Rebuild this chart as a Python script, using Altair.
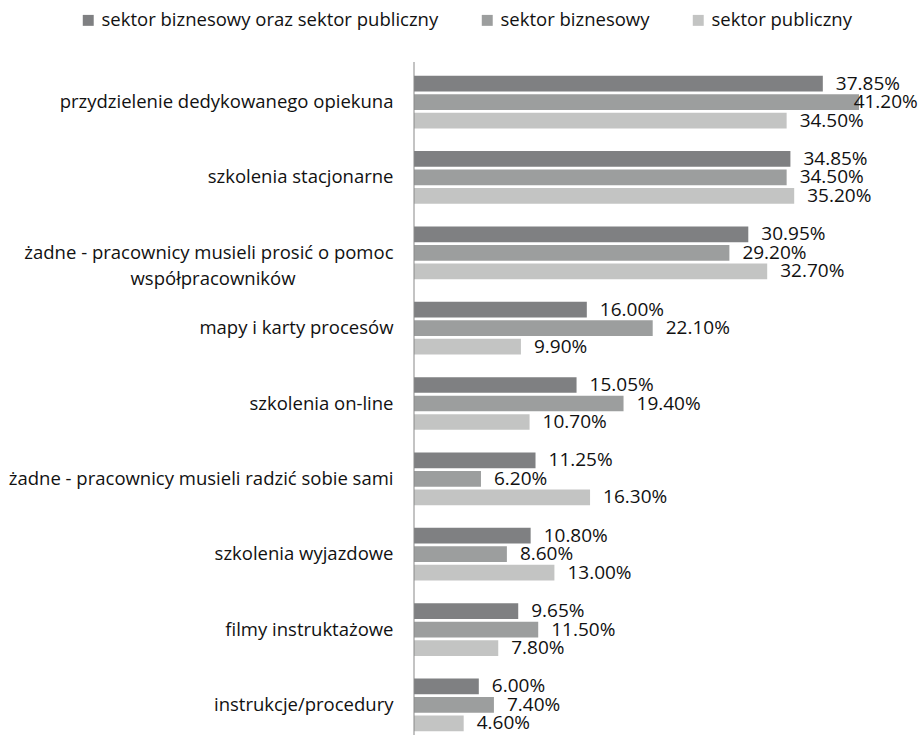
import altair as alt
import pandas as pd

PAD = "\u2800"
categories = [
    "przydzielenie dedykowanego opiekuna",
    "szkolenia stacjonarne",
    "żadne - pracownicy musieli prosić o pomoc|współpracowników" + PAD * 7,
    "mapy i karty procesów",
    "szkolenia on-line",
    "żadne - pracownicy musieli radzić sobie sami",
    "szkolenia wyjazdowe",
    "filmy instruktażowe",
    "instrukcje/procedury",
]
series = ["sektor biznesowy oraz sektor publiczny", "sektor biznesowy", "sektor publiczny"]
s_all = [37.85, 34.85, 30.95, 16.00, 15.05, 11.25, 10.80, 9.65, 6.00]
s_biz = [41.20, 34.50, 29.20, 22.10, 19.40, 6.20, 8.60, 11.50, 7.40]
s_pub = [34.50, 35.20, 32.70, 9.90, 10.70, 16.30, 13.00, 7.80, 4.60]
colors = ["#7f8082", "#9c9e9e", "#c3c4c3"]

rows = []
for vals, s in zip([s_all, s_biz, s_pub], series):
    for c, v in zip(categories, vals):
        rows.append({"cat": c, "series": s, "value": v, "label": f"{v:.2f}%"})
df = pd.DataFrame(rows)

FONT = "Open Sans"
H = 663
y_enc = alt.Y("cat:N", sort=categories,
              scale=alt.Scale(paddingInner=0.30, paddingOuter=0.05),
              axis=alt.Axis(title=None, domain=False, ticks=False, labelPadding=21,
                            labelFontSize=18.5, labelColor="#111111", labelFont=FONT,
                            labelLineHeight=26, labelLimit=420,
                            labelExpr="split(datum.label, '|')"))
yoff = alt.YOffset("series:N", sort=series, scale=alt.Scale(paddingInner=0.15))
x_scale = alt.Scale(domain=[0, 44.44], nice=False, zero=True)

base = alt.Chart(df)
bars = base.mark_bar(cornerRadius=0).encode(
    x=alt.X("value:Q", scale=x_scale, axis=None),
    y=y_enc,
    yOffset=yoff,
    color=alt.Color("series:N", sort=series,
                    scale=alt.Scale(domain=series, range=colors),
                    legend=alt.Legend(title=None, orient="none", legendX=-335, legendY=-61,
                                      direction="horizontal", symbolType="square",
                                      symbolSize=120, symbolStrokeWidth=0,
                                      labelFont=FONT, labelFontSize=18.5,
                                      labelColor="#111111", columnPadding=39,
                                      labelOffset=4, labelLimit=400)),
)
text = base.transform_calculate(lx="min(datum.value, 39.5)").mark_text(
    align="left", baseline="middle", dx=13, fontSize=19, font=FONT, color="#111111"
).encode(
    x=alt.X("lx:Q", scale=x_scale, axis=None),
    y=alt.Y("cat:N", sort=categories),
    yOffset=yoff,
    text="label:N",
)
axis_line = alt.Chart(pd.DataFrame({"a": [0]})).mark_rule(color="#888888", strokeWidth=1).encode(
    x=alt.value(0), y=alt.value(-10), y2=alt.value(H + 4)
)

chart = alt.layer(bars, text, axis_line).properties(
    width=480, height=H,
    background="white",
    autosize=alt.AutoSizeParams(type="none"),
    padding={"left": 414, "top": 72, "right": 25, "bottom": 0},
).configure_view(strokeWidth=0, stroke="transparent")

chart.save("out.html", embed_options={"renderer": "svg", "actions": False})
